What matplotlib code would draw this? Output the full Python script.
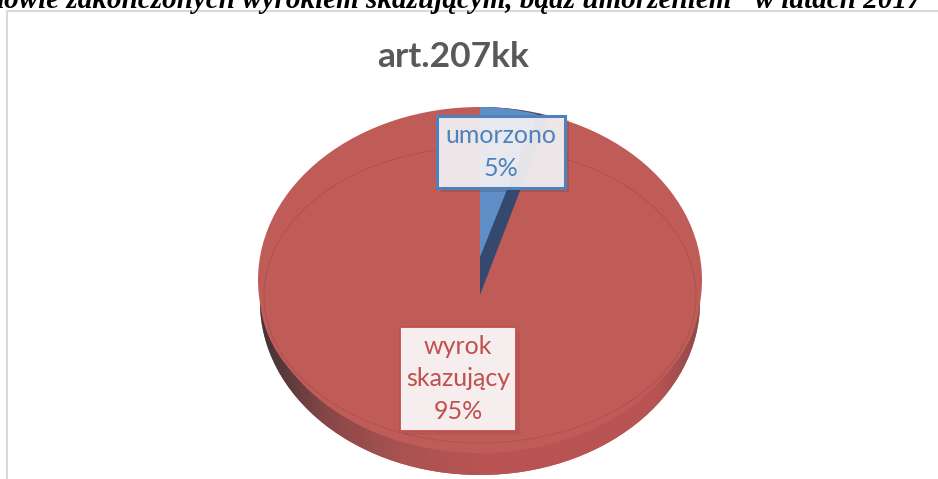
import numpy as np
import matplotlib
matplotlib.use('Agg')
import matplotlib.pyplot as plt
from matplotlib.colors import LinearSegmentedColormap
from matplotlib.patches import Rectangle

W, H = 938, 479

categories = ['umorzono', 'wyrok\nskazujący']
shares = [5, 95]
chart_title = 'art.207kk'
heading = 'łowie zakończonych wyrokiem skazującym, bądź umorzeniem" w latach 2017'

RED = '#c05c58'
BLUE = '#5f8ec6'
DARK_BLUE = '#34496d'

plt.rcParams['font.family'] = ['Lato', 'DejaVu Sans']
fig = plt.figure(figsize=(W / 100, H / 100), dpi=100)


def pie_layer(cx, cy, rx, ry, values, colors):
    # one squashed pie, placed by pixel centre and radii
    ax = fig.add_axes([(cx - rx) / W, 1 - (cy + ry) / H, 2 * rx / W, 2 * ry / H])
    wedges, _ = ax.pie(values, colors=colors, startangle=90, counterclock=False, radius=1)
    ax.set_xlim(-1, 1)
    ax.set_ylim(-1, 1)
    ax.set_aspect('auto')
    ax.patch.set_alpha(0)
    return ax, wedges


# side of the disc, dark on the left
ax_side, side = pie_layer(480, 302, 220, 173, [sum(shares)], ['#b85453'])
side_cmap = LinearSegmentedColormap.from_list('side', [
    (0.0, '#3f3436'), (0.06, '#5c3a3c'), (0.16, '#8a4848'), (0.32, '#aa5251'),
    (0.5, '#b85453'), (0.9, '#b85453'), (1.0, '#8f4a4a')])
img = ax_side.imshow(np.linspace(0, 1, 256)[None, :], cmap=side_cmap, aspect='auto',
                     extent=(-1, 1, -1, 1), zorder=3)
img.set_clip_path(side[0])
ax_side.set_xlim(-1, 1)
ax_side.set_ylim(-1, 1)

# top of the disc: dome above the centre, flat ellipse below
ax_body, body = pie_layer(480, 280, 222, 173, [sum(shares)], [RED])
ov_clip = Rectangle((0, 0), W, 289, transform=None)
ov_clip.set_transform(fig.dpi_scale_trans)
ov_clip.set_bounds(0, (H - 289) / 100, W / 100, 289 / 100)
body[0].set_clip_path(ov_clip)
ax_face, face = pie_layer(480, 295, 220, 148, [sum(shares)], [RED])

# the two slices, dark face of the blue one first
ax_main, main = pie_layer(480, 295, 222, 188, shares, [DARK_BLUE, 'none'])
for w in main:
    w.set_clip_path(ov_clip)
ax_bevel, bevel = pie_layer(480, 257, 185, 150, shares, [BLUE, 'none'])
for w in bevel:
    w.set_clip_path(ov_clip)

# faint rim line on the top face
ax_rim, rim = pie_layer(480, 295, 216, 148, [sum(shares)], ['none'])
rim[0].set_edgecolor('#ad4e4c')
rim[0].set_linewidth(0.6)

# everything else in pixel coordinates
ov = fig.add_axes([0, 0, 1, 1])
ov.set_xlim(0, W)
ov.set_ylim(H, 0)
ov.axis('off')
ov.patch.set_alpha(0)

ov.plot([6.5, 6.5, W], [H, 10.5, 10.5], color='#d9d9d9', lw=1.5)
ov.text(-4, 8, heading, family='Liberation Serif', weight='bold', style='italic',
        fontsize=21, color='black', ha='left', va='baseline', clip_on=False)
ov.text(453, 57, chart_title, fontsize=25.5, weight='bold', color='#595959',
        ha='center', va='center')


def label_box(x0, y0, x1, y1, text, color, face, face_alpha, lw, shadow):
    # shadow, then box, then text
    ov.add_patch(Rectangle((x0 + 4, y0 + 4), x1 - x0, y1 - y0, fc='#5a3030', ec='none', alpha=shadow))
    ov.add_patch(Rectangle((x0, y0), x1 - x0, y1 - y0, fc=face, ec='none', alpha=face_alpha))
    ov.add_patch(Rectangle((x0, y0), x1 - x0, y1 - y0, fc='none', ec=color, lw=lw))
    ov.text((x0 + x1) / 2, (y0 + y1) / 2, text, color=color, fontsize=18,
            ha='center', va='center', linespacing=1.5)


label_box(437, 116, 565, 188, f'{categories[0]}\n{shares[0]}%', '#4f81bd', '#f3f2f5', 0.93, 2.2, 0.2)
label_box(400, 327, 516, 431, f'{categories[1]}\n{shares[1]}%', '#c0504d', '#f5edee', 1.0, 1.3, 0.1)

fig.savefig('out.png', dpi=100)
